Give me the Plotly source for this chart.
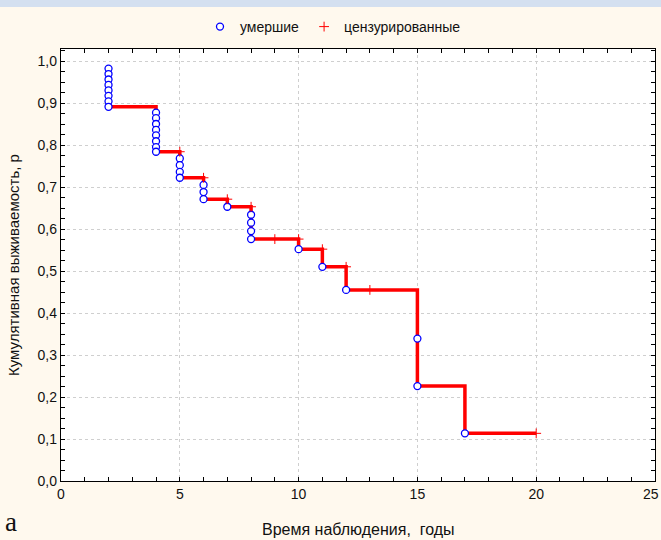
import plotly.graph_objects as go

# Kaplan-Meier style data
death_times = [2, 2, 2, 2, 2, 2, 2, 2,
               4, 4, 4, 4, 4, 4, 4, 4,
               5, 5, 5, 5,
               6, 6, 6,
               7,
               8, 8, 8, 8,
               10, 11, 12, 15, 15, 17]
death_surv = [0.982, 0.969, 0.956, 0.943, 0.930, 0.917, 0.904, 0.891,
              0.877, 0.864, 0.850, 0.836, 0.823, 0.809, 0.795, 0.784,
              0.768, 0.752, 0.736, 0.722,
              0.705, 0.688, 0.671,
              0.653,
              0.634, 0.615, 0.595, 0.576,
              0.552, 0.510, 0.455, 0.339, 0.226, 0.1135]

cens_times = [5, 6, 7, 8, 9, 10, 11, 12, 13, 20]
cens_surv = [0.784, 0.722, 0.671, 0.653, 0.576, 0.576, 0.552, 0.510, 0.455, 0.1135]

step_times = [2, 4, 5, 6, 7, 8, 10, 11, 12, 15, 17, 20]
step_surv = [0.891, 0.784, 0.722, 0.671, 0.653, 0.576, 0.552, 0.510, 0.455, 0.226, 0.1135, 0.1135]

x_ticks = [0, 5, 10, 15, 20]
x_last_tick = 25
y_ticks = [0.0, 0.1, 0.2, 0.3, 0.4, 0.5, 0.6, 0.7, 0.8, 0.9, 1.0]

legend_dead = "умершие"
legend_cens = "цензурированные"
x_title = "Время наблюдения,\u00a0 годы"
y_title = "Кумулятивная выживаемость, р"

FONT = "Liberation Sans, Arial, sans-serif"

fig = go.Figure()
fig.add_trace(go.Scatter(
    x=step_times, y=step_surv, mode="lines", line_shape="hv",
    line=dict(color="#FF0000", width=3.5), showlegend=False, hoverinfo="skip"))
fig.add_trace(go.Scatter(
    x=death_times, y=death_surv, mode="markers", name=legend_dead,
    marker=dict(symbol="circle", size=7, color="white",
                line=dict(color="#0000FF", width=1.3))))
fig.add_trace(go.Scatter(
    x=cens_times, y=cens_surv, mode="markers", name=legend_cens,
    marker=dict(symbol="cross-thin", size=7,
                line=dict(color="#FF0000", width=1))))

W, H = 661, 540
L, R, T, B = 61, 6, 49, 59
pw, ph = W - L - R, H - T - B

def px_x(p):
    return (p - L) / pw

def px_y(p):
    return (H - B - p) / ph

axis_common = dict(
    showline=True, linecolor="black", linewidth=1.3, mirror="allticks",
    ticks="inside", ticklen=4, tickcolor="black", tickwidth=1,
    showgrid=True, gridcolor="#CFCFCF", griddash="dot", gridwidth=1,
    zeroline=False, tickfont=dict(family=FONT, size=14, color="#111111"),
    automargin=False,
)

fig.update_xaxes(
    range=[0, 25], tickvals=x_ticks + [x_last_tick],
    ticktext=[str(v) for v in x_ticks] + [""],
    minor=dict(dtick=1, ticks="inside", ticklen=4, tickcolor="black", showgrid=False),
    **axis_common)
fig.update_yaxes(
    range=[0, 1.0286], tickvals=y_ticks, tickformat=".1f",
    minor=dict(dtick=0.025, tick0=0, ticks="inside", ticklen=4, tickcolor="black", showgrid=False),
    **axis_common)

fig.update_layout(
    width=W, height=H,
    margin=dict(l=L, r=R, t=T, b=B, pad=0, autoexpand=False),
    paper_bgcolor="#FFF9EE", plot_bgcolor="white",
    separators=",.",
    font=dict(family=FONT, size=14, color="#111111"),
    legend=dict(orientation="h", x=px_x(333), xanchor="center",
                y=px_y(27), yanchor="middle", bgcolor="rgba(0,0,0,0)",
                font=dict(family=FONT, size=14), itemwidth=30),
    shapes=[dict(type="rect", xref="paper", yref="paper",
                 x0=px_x(0), x1=px_x(W), y0=px_y(7), y1=px_y(0),
                 fillcolor="#D4E0F0", line=dict(width=0), layer="below")],
    annotations=[
        dict(text=str(x_last_tick), xref="paper", yref="paper", x=px_x(W), y=px_y(494),
             xanchor="right", yanchor="middle", showarrow=False,
             font=dict(family=FONT, size=14, color="#111111")),
        dict(text=x_title, xref="paper", yref="paper", x=px_x(358), y=px_y(529),
             xanchor="center", yanchor="middle", showarrow=False,
             font=dict(family=FONT, size=16, color="#111111")),
        dict(text=y_title, xref="paper", yref="paper", x=px_x(13), y=px_y(265),
             xanchor="center", yanchor="middle", showarrow=False, textangle=-90,
             font=dict(family=FONT, size=15, color="#111111")),
        dict(text="а", xref="paper", yref="paper", x=px_x(3), y=px_y(522),
             xanchor="left", yanchor="middle", showarrow=False,
             font=dict(family="Liberation Serif, DejaVu Serif, serif", size=27, color="#111111")),
    ],
)

fig.write_html("out.html")
